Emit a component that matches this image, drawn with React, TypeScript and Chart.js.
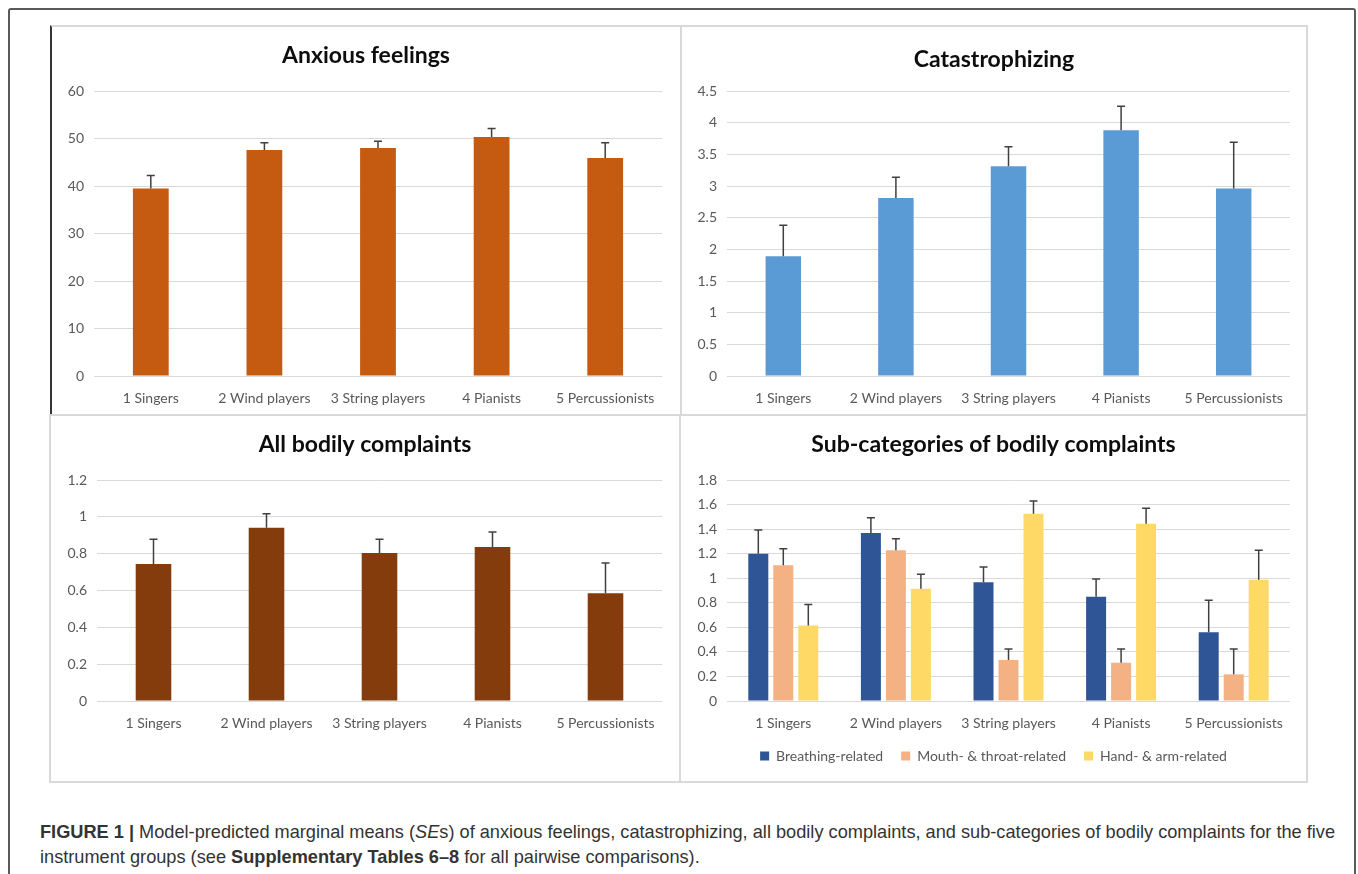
import React, { useEffect, useRef } from "react";
import { Chart, registerables } from "chart.js";
Chart.register(...registerables);

// ---------- data ----------
const categories = ["1 Singers", "2 Wind players", "3 String players", "4 Pianists", "5 Percussionists"];

const anxiousMeans = [39.5, 47.6, 48.0, 50.3, 45.9];
const anxiousSE = [2.7, 1.5, 1.4, 1.8, 3.2];

const catastrophizingMeans = [1.89, 2.81, 3.31, 3.88, 2.96];
const catastrophizingSE = [0.49, 0.33, 0.31, 0.38, 0.73];

const bodilyMeans = [0.744, 0.941, 0.804, 0.836, 0.585];
const bodilySE = [0.134, 0.076, 0.074, 0.082, 0.164];

const breathingMeans = [1.2, 1.368, 0.967, 0.85, 0.559];
const breathingSE = [0.193, 0.125, 0.124, 0.144, 0.261];
const mouthMeans = [1.105, 1.227, 0.334, 0.312, 0.217];
const mouthSE = [0.136, 0.095, 0.09, 0.112, 0.207];
const handMeans = [0.614, 0.915, 1.526, 1.444, 0.988];
const handSE = [0.171, 0.117, 0.103, 0.125, 0.239];

const subLabels = ["Breathing-related", "Mouth- & throat-related", "Hand- & arm-related"];

// ---------- styling ----------
const FONT = "Lato, 'Open Sans', 'Noto Sans', sans-serif";
const TICK_COLOR = "#595959";
const GRID_COLOR = "#d9d9d9";
const TICK_SIZE = 14;

const errorBarPlugin = {
  id: "errorBars",
  afterDatasetsDraw(chart: any) {
    const ctx = chart.ctx;
    const yScale = chart.scales.y;
    chart.data.datasets.forEach((ds: any, di: number) => {
      const meta = chart.getDatasetMeta(di);
      const errs = ds.errors;
      if (!errs || meta.hidden) return;
      meta.data.forEach((bar: any, i: number) => {
        const v = ds.data[i];
        const base = yScale.getPixelForValue(v);
        const top = yScale.getPixelForValue(v + errs[i]);
        ctx.save();
        ctx.strokeStyle = "#404040";
        ctx.lineWidth = 1.5;
        ctx.beginPath();
        ctx.moveTo(bar.x, base);
        ctx.lineTo(bar.x, top);
        ctx.moveTo(bar.x - 4, top);
        ctx.lineTo(bar.x + 4, top);
        ctx.stroke();
        ctx.restore();
      });
    });
  },
};

type Spec = {
  title: string;
  left: number;
  top: number;
  width: number;
  height: number;
  chartLeft: number; // plot area left offset within canvas
  rightGap: number; // space between plot area and canvas right edge
  padBottom: number;
  titleTop: number;
  titleBottom: number;
  xHeight: number;
  yMax: number;
  yStep: number;
  datasets: any[];
  legend: boolean;
  grouped: boolean;
};

function BarPanel({ spec }: { spec: Spec }) {
  const ref = useRef<HTMLCanvasElement | null>(null);
  useEffect(() => {
    const chart = new Chart(ref.current as HTMLCanvasElement, {
      type: "bar",
      data: { labels: categories, datasets: spec.datasets },
      options: {
        animation: false,
        responsive: false,
        maintainAspectRatio: false,
        layout: { padding: { left: 0, right: 0, top: 0, bottom: spec.padBottom } },
        datasets: {
          bar: spec.grouped
            ? { categoryPercentage: 0.666, barPercentage: 0.8 }
            : { categoryPercentage: 1, barPercentage: 0.315 },
        } as any,
        plugins: {
          title: {
            display: true,
            text: spec.title,
            color: "#0d0d0d",
            font: { family: FONT, size: 23, weight: "bold", lineHeight: 1.2 },
            padding: { top: spec.titleTop, bottom: spec.titleBottom },
          },
          legend: {
            display: spec.legend,
            position: "bottom",
            labels: {
              boxWidth: 9,
              boxHeight: 9,
              padding: 18,
              color: TICK_COLOR,
              font: { family: FONT, size: TICK_SIZE },
            },
          },
          tooltip: { enabled: false },
        },
        scales: {
          x: {
            grid: { display: false },
            border: { display: false },
            ticks: {
              color: TICK_COLOR,
              font: { family: FONT, size: TICK_SIZE },
              padding: 6,
              maxRotation: 0,
              autoSkip: false,
            },
            afterFit: (s: any) => {
              s.height = spec.xHeight;
            },
          },
          y: {
            min: 0,
            max: spec.yMax,
            grid: { color: GRID_COLOR, lineWidth: 1, drawTicks: false },
            border: { display: false },
            ticks: {
              stepSize: spec.yStep,
              color: TICK_COLOR,
              font: { family: FONT, size: TICK_SIZE },
              padding: 10,
              callback: (v: any) => String(Number(Number(v).toFixed(2))),
            },
            afterFit: (s: any) => {
              s.width = spec.chartLeft;
            },
          },
          // empty spacer axis on the right so that titles / legend stay centred on the panel
          spacer: {
            type: "linear",
            position: "right",
            display: true,
            grid: { display: false },
            border: { display: false },
            ticks: { display: false },
            afterFit: (s: any) => {
              s.width = spec.rightGap;
            },
          },
        } as any,
      },
      plugins: [errorBarPlugin],
    });
    return () => chart.destroy();
  }, []);
  return (
    <canvas
      ref={ref}
      width={spec.width}
      height={spec.height}
      style={{ position: "absolute", left: spec.left, top: spec.top, width: spec.width, height: spec.height }}
    />
  );
}

// title: lineHeight 23*1.2 = 27.6 ; titleTop + 27.6 + titleBottom = 65
const panels: Spec[] = [
  {
    title: "Anxious feelings",
    left: 51, top: 26, width: 630, height: 389,
    chartLeft: 43, rightGap: 19, padBottom: 0,
    titleTop: 16.2, titleBottom: 21.2, xHeight: 39,
    yMax: 60, yStep: 10, legend: false, grouped: false,
    datasets: [{ label: "Anxious feelings", data: anxiousMeans, errors: anxiousSE, backgroundColor: "#C55A11" }],
  },
  {
    title: "Catastrophizing",
    left: 681, top: 26, width: 626, height: 389,
    chartLeft: 46, rightGap: 17, padBottom: 0,
    titleTop: 20.2, titleBottom: 17.2, xHeight: 39,
    yMax: 4.5, yStep: 0.5, legend: false, grouped: false,
    datasets: [{ label: "Catastrophizing", data: catastrophizingMeans, errors: catastrophizingSE, backgroundColor: "#5B9BD5" }],
  },
  {
    title: "All bodily complaints",
    left: 50, top: 415, width: 630, height: 367,
    chartLeft: 47, rightGap: 18, padBottom: 0,
    titleTop: 16.2, titleBottom: 21.2, xHeight: 81,
    yMax: 1.2, yStep: 0.2, legend: false, grouped: false,
    datasets: [{ label: "All bodily complaints", data: bodilyMeans, errors: bodilySE, backgroundColor: "#843C0C" }],
  },
  {
    // legend height = 14 + 18 + 10 = 42 ; 367 - 9 - 42 - 30 = 286 -> plot bottom at y=701
    title: "Sub-categories of bodily complaints",
    left: 680, top: 415, width: 627, height: 367,
    chartLeft: 47, rightGap: 17, padBottom: 9,
    titleTop: 16.2, titleBottom: 21.2, xHeight: 30,
    yMax: 1.8, yStep: 0.2, legend: true, grouped: true,
    datasets: [
      { label: subLabels[0], data: breathingMeans, errors: breathingSE, backgroundColor: "#2F5597" },
      { label: subLabels[1], data: mouthMeans, errors: mouthSE, backgroundColor: "#F4B183" },
      { label: subLabels[2], data: handMeans, errors: handSE, backgroundColor: "#FFD966" },
    ],
  },
];

export default function App() {
  const box = (l: number, t: number, w: number, h: number, extra: any = {}) => (
    <div
      style={{
        position: "absolute",
        left: l,
        top: t,
        width: w,
        height: h,
        boxSizing: "border-box",
        border: `2px solid ${GRID_COLOR}`,
        ...extra,
      }}
    />
  );
  return (
    <div style={{ position: "absolute", left: 0, top: 0, width: 1358, height: 874, overflow: "hidden", background: "#fff" }}>
      <div
        style={{
          position: "absolute",
          left: 8,
          top: 8,
          width: 1348,
          height: 900,
          boxSizing: "border-box",
          border: "2px solid #5a5a5a",
          borderRadius: 3,
        }}
      />
      {box(50, 25, 632, 391, { borderLeft: "2px solid #333" })}
      {box(680, 25, 628, 391)}
      {box(49, 414, 632, 369)}
      {box(679, 414, 629, 369)}
      {panels.map((p, i) => (
        <BarPanel key={i} spec={p} />
      ))}
      <div
        style={{
          position: "absolute",
          left: 40,
          top: 820,
          font: "18.2px 'Liberation Sans', Arial, sans-serif",
          lineHeight: "25px",
          color: "#333",
          whiteSpace: "nowrap",
        }}
      >
        <b>FIGURE 1 |</b> Model-predicted marginal means (<i>SE</i>s) of anxious feelings, catastrophizing, all bodily
        complaints, and sub-categories of bodily complaints for the five
        <br />
        instrument groups (see <b>Supplementary Tables 6–8</b> for all pairwise comparisons).
      </div>
    </div>
  );
}
